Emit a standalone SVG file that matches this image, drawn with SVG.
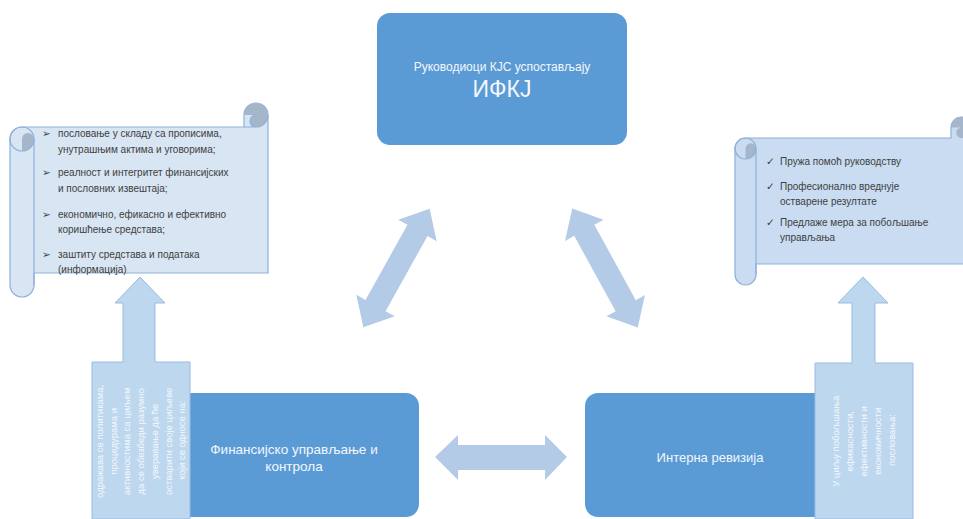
<svg xmlns="http://www.w3.org/2000/svg" width="963" height="519" viewBox="0 0 963 519">
<style>
.box{fill:#5B9BD5}
.boxt{fill:#F3F7FC;font-family:"Liberation Sans",Arial,sans-serif;text-anchor:middle}
.dbl{fill:#B4CBE8}
.call{fill:#BDD7EE;stroke:#9BBCE0;stroke-width:1}
.callt{fill:#F4F8FC;font-family:"Liberation Sans",Arial,sans-serif;font-size:9.5px;text-anchor:middle}
.scroll{stroke:#8EB1DA;stroke-width:1.2}
.dark{fill:#A6B6CA}
.line{fill:none;stroke:#8EB1DA;stroke-width:1.2}
.st{fill:#404040;font-family:"Liberation Sans",Arial,sans-serif;font-size:10px}
.bul{fill:#404040;font-family:"DejaVu Sans",sans-serif;font-size:10.5px}
</style>
<defs>
<polygon id="dblarrow" points="-68,0 -43,-22 -43,-11.5 43,-11.5 43,-22 68,0 43,22 43,11.5 -43,11.5 -43,22"/>
</defs>

<g id="connectors">
<use href="#dblarrow" class="dbl" transform="translate(396.5,268) rotate(119.2)"/>
<use href="#dblarrow" class="dbl" transform="translate(605,268) rotate(61.2)"/>
<polygon class="dbl" points="435,457 458,435 458,445 545,445 545,435 567,457 545,480 545,470 458,470 458,480"/>
</g>

<g id="node-top">
<rect class="box" x="377" y="13" width="250" height="132" rx="13"/>
<text class="boxt" x="502" y="71" font-size="12">Руководиоци КЈС успостављају</text>
<text class="boxt" x="502" y="97" font-size="23">ИФКЈ</text>
</g>

<g id="node-fuk">
<rect class="box" x="169" y="393" width="250" height="124" rx="13"/>
<text class="boxt" x="294" y="454" font-size="13.5">Финансијско управљање и</text>
<text class="boxt" x="294" y="471" font-size="13.5">контрола</text>
</g>

<g id="node-ir">
<rect class="box" x="585" y="393" width="250" height="124" rx="13"/>
<text class="boxt" x="710" y="462" font-size="13">Интерна ревизија</text>
</g>

<g id="callout-left">
<polygon class="call" points="92,519 92,362 123,362 123,303 115,303 140,277 165,303 155,303 155,362 190,362 190,519"/>
<text class="callt" transform="translate(141,440) rotate(-90)">
<tspan x="0" y="-38">одражава се политикама,</tspan>
<tspan x="0" y="-24.3">процедурама и</tspan>
<tspan x="0" y="-10.6">активностима са циљем</tspan>
<tspan x="0" y="3.1">да се обезбеди разумно</tspan>
<tspan x="0" y="16.8">уверавање да ће</tspan>
<tspan x="0" y="30.5">остварити своје циљеве</tspan>
<tspan x="0" y="44.2">који се односе на:</tspan>
</text>
</g>

<g id="callout-right">
<polygon class="call" points="815,519 815,363 852,363 852,303 838,303 863,277 888,303 875,303 875,363 913,363 913,519"/>
<text class="callt" transform="translate(864,440) rotate(-90)">
<tspan x="0" y="-25">У циљу побољшања</tspan>
<tspan x="0" y="-11">ефикасности,</tspan>
<tspan x="0" y="3">ефективности и</tspan>
<tspan x="0" y="17">економичности</tspan>
<tspan x="0" y="31">пословања:</tspan>
</text>
</g>

<g id="scroll-left">
<path class="scroll" fill="#D8E5F3" d="M10,139 A12,12 0 0 1 22,127 L244,127 L244,115 A12,12 0 0 1 268,115 L268,273 L34,273 L34,285 A12,12 0 0 1 10,285 Z"/>
<path class="dark" d="M22,151 A12,12 0 0 0 34,139 A6,6 0 0 0 22,139 Z"/>
<path class="dark" d="M244,115 A12,12 0 0 1 268,115 A12,12 0 0 1 256,127 A6,6 0 0 1 256,115 Z"/>
<circle class="line" cx="22" cy="139" r="12"/>
<path class="line" d="M34,139 L34,285 M256,127 L244,127 M256,127 A6,6 0 0 1 256,115 M268,115 A12,12 0 0 1 256,127"/>
<text class="bul" x="42" y="137">➢</text>
<text class="st" x="58" y="137">пословање у складу са прописима,</text>
<text class="st" x="58" y="153">унутрашњим актима и уговорима;</text>
<text class="bul" x="42" y="176">➢</text>
<text class="st" x="58" y="176">реалност и интегритет финансијских</text>
<text class="st" x="58" y="192">и пословних извештаја;</text>
<text class="bul" x="42" y="218">➢</text>
<text class="st" x="58" y="218">економично, ефикасно и ефективно</text>
<text class="st" x="58" y="233">коришћење средстава;</text>
<text class="bul" x="42" y="258">➢</text>
<text class="st" x="58" y="258">заштиту средстава и података</text>
<text class="st" x="58" y="273">(информација)</text>
</g>

<g id="scroll-right">
<path class="scroll" fill="#C9DCF1" d="M735,148.5 A10.5,10.5 0 0 1 745.5,138 L951,138 L951,127.5 A10.5,10.5 0 0 1 972,127.5 L972,264 L756,264 L756,274.5 A10.5,10.5 0 0 1 735,274.5 Z"/>
<path class="dark" d="M745.5,159 A10.5,10.5 0 0 0 756,148.5 A5.25,5.25 0 0 0 745.5,148.5 Z"/>
<path class="dark" d="M951,127.5 A10.5,10.5 0 0 1 972,127.5 A10.5,10.5 0 0 1 961.5,138 A5.25,5.25 0 0 1 961.5,127.5 Z"/>
<circle class="line" cx="745.5" cy="148.5" r="10.5"/>
<path class="line" d="M756,148.5 L756,274.5"/>
<text class="bul" x="766" y="165">✓</text>
<text class="st" x="780" y="165">Пружа помоћ руководству</text>
<text class="bul" x="766" y="190">✓</text>
<text class="st" x="780" y="190">Професионално вреднује</text>
<text class="st" x="780" y="205">остварене резултате</text>
<text class="bul" x="766" y="226">✓</text>
<text class="st" x="780" y="226">Предлаже мера за побољшање</text>
<text class="st" x="780" y="241">управљања</text>
</g>
</svg>
